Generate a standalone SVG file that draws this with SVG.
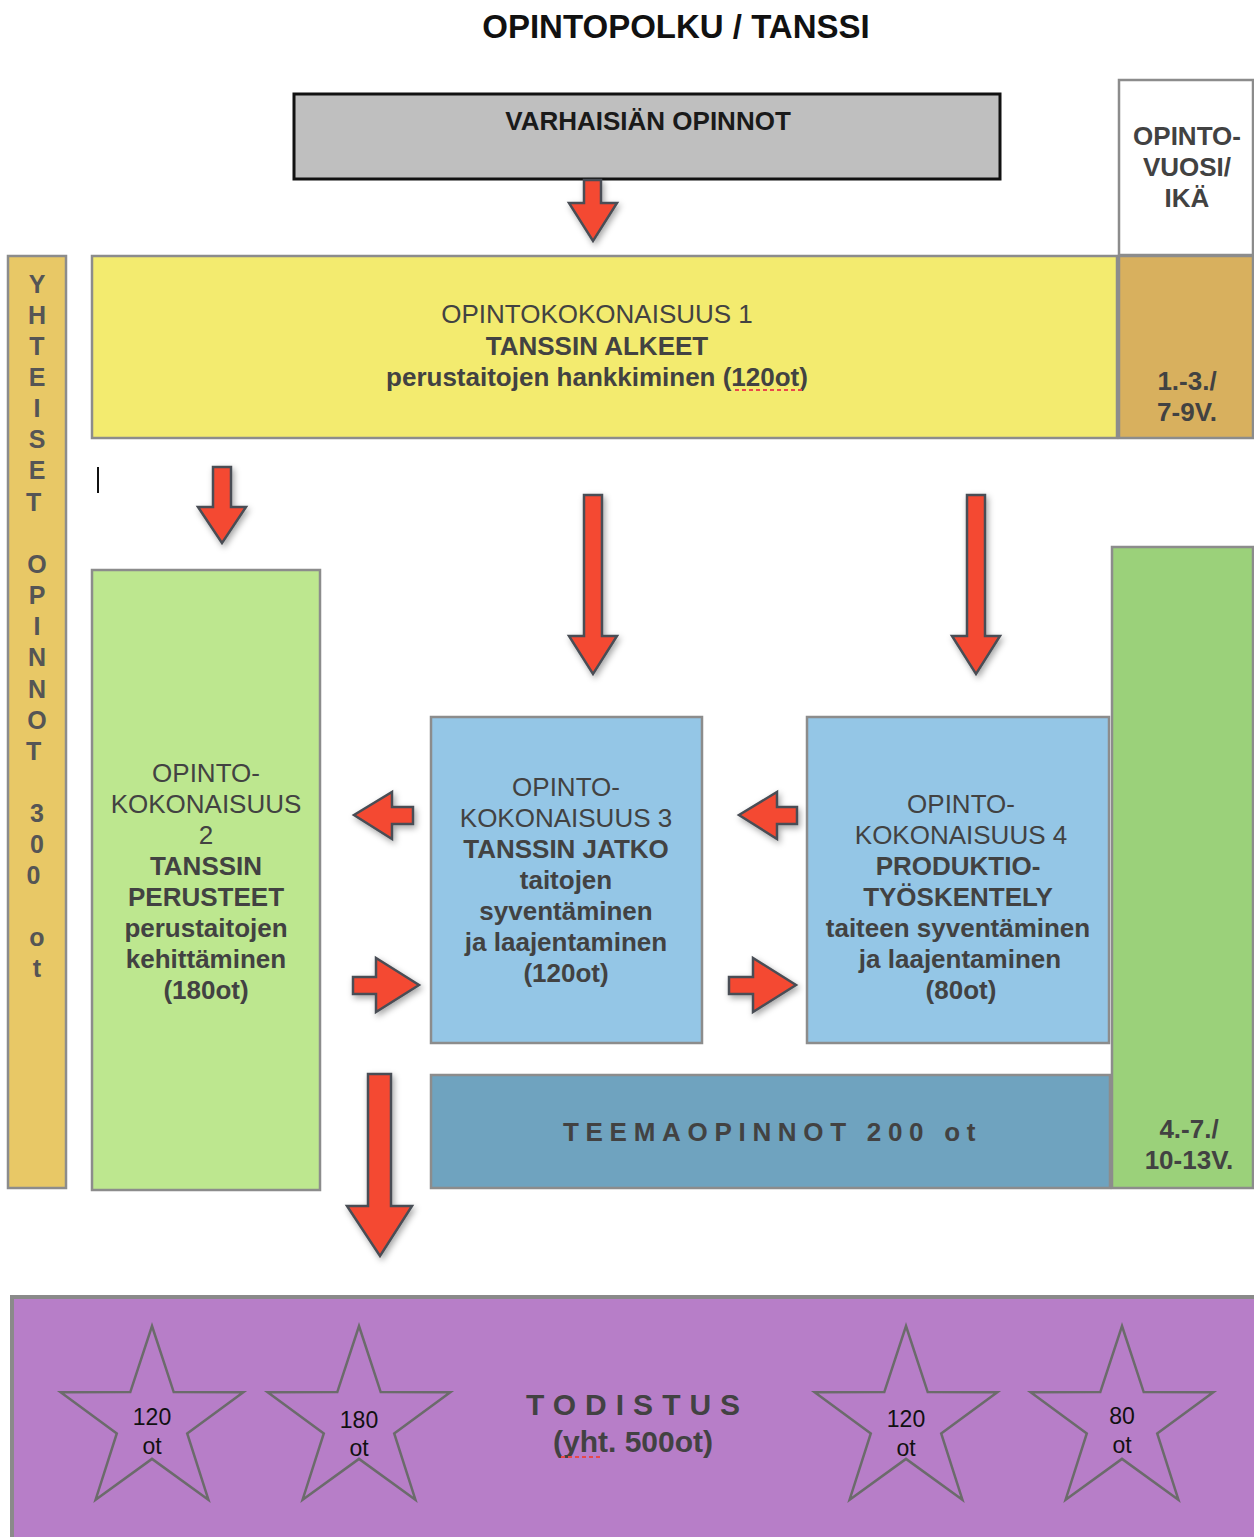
<svg xmlns="http://www.w3.org/2000/svg" width="1254" height="1537" viewBox="0 0 1254 1537">
<defs>
<style>
.t{font-family:"Liberation Sans",Arial,sans-serif;fill:#424242;text-anchor:middle}
.b{font-weight:bold}
.box{stroke:#8c8c8c;stroke-width:2.5}
.arr{fill:#f44a33;stroke:#4a4e55;stroke-width:2.5;stroke-linejoin:miter;filter:url(#sh)}
.star{fill:none;stroke:#6b6b6b;stroke-width:2.5;stroke-linejoin:miter}
.st{font-family:"Liberation Sans",Arial,sans-serif;fill:#111;text-anchor:middle;font-size:23px}
.sq{stroke:#e8474a;stroke-width:2;stroke-dasharray:4 3}
</style>
<filter id="sh" x="-30%" y="-30%" width="160%" height="160%">
<feDropShadow dx="2" dy="3" stdDeviation="3" flood-color="#000" flood-opacity="0.35"/>
</filter>
<polygon id="star" points="0,-96 21.7,-29.9 91.3,-29.7 35.2,11.4 56.4,77.7 0,36.9 -56.4,77.7 -35.2,11.4 -91.3,-29.7 -21.7,-29.9"/>
</defs>
<rect width="1254" height="1537" fill="#fff"/>

<text class="t b" x="676" y="38" font-size="33" style="fill:#111">OPINTOPOLKU / TANSSI</text>

<g id="varhaisian">
<rect x="294" y="94" width="706" height="85" fill="#bfbfbf" stroke="#111" stroke-width="3"/>
<text class="t b" x="648" y="130" font-size="26" style="fill:#1a1a1a">VARHAISIÄN OPINNOT</text>
</g>

<g id="opintovuosi">
<rect x="1119" y="80" width="134" height="175" fill="#fff" class="box"/>
<text class="t b" font-size="26"><tspan x="1187" y="145">OPINTO-</tspan><tspan x="1187" y="176">VUOSI/</tspan><tspan x="1187" y="207">IKÄ</tspan></text>
</g>

<g id="ok1">
<rect x="92" y="256" width="1025" height="182" fill="#f3eb6f" class="box"/>
<text class="t" x="597" y="323" font-size="26">OPINTOKOKONAISUUS 1</text>
<text class="t b" x="597" y="355" font-size="26">TANSSIN ALKEET</text>
<text class="t b" x="597" y="386" font-size="26">perustaitojen hankkiminen (120ot)</text>
<line class="sq" x1="735" y1="390" x2="803" y2="390"/>
</g>

<g id="ika1">
<rect x="1119" y="256" width="134" height="182" fill="#d8b05e" class="box"/>
<text class="t b" font-size="26"><tspan x="1187" y="390">1.-3./</tspan><tspan x="1187" y="421">7-9V.</tspan></text>
</g>

<g id="yhteiset">
<rect x="8" y="256" width="58" height="932" fill="#e8c866" class="box"/>
<text class="t b" font-size="25" style="fill:#555">
<tspan x="37" y="293">Y</tspan><tspan x="37" y="324">H</tspan><tspan x="37" y="355">T</tspan><tspan x="37" y="386">E</tspan><tspan x="37" y="417">I</tspan><tspan x="37" y="448">S</tspan><tspan x="37" y="479">E</tspan><tspan x="37" y="511">T</tspan>
<tspan x="37" y="573">O</tspan><tspan x="37" y="604">P</tspan><tspan x="37" y="635">I</tspan><tspan x="37" y="666">N</tspan><tspan x="37" y="698">N</tspan><tspan x="37" y="729">O</tspan><tspan x="37" y="760">T</tspan>
<tspan x="37" y="822">3</tspan><tspan x="37" y="853">0</tspan><tspan x="37" y="884">0</tspan>
<tspan x="37" y="946">o</tspan><tspan x="37" y="977">t</tspan>
</text>
</g>

<line x1="98" y1="467" x2="98" y2="493" stroke="#111" stroke-width="2"/>

<g id="ok2">
<rect x="92" y="570" width="228" height="620" fill="#bde78f" class="box"/>
<text class="t" font-size="26"><tspan x="206" y="782">OPINTO-</tspan><tspan x="206" y="813">KOKONAISUUS</tspan><tspan x="206" y="844">2</tspan></text>
<text class="t b" font-size="26"><tspan x="206" y="875">TANSSIN</tspan><tspan x="206" y="906">PERUSTEET</tspan><tspan x="206" y="937">perustaitojen</tspan><tspan x="206" y="968">kehittäminen</tspan><tspan x="206" y="999">(180ot)</tspan></text>
</g>

<g id="ok3">
<rect x="431" y="717" width="271" height="326" fill="#94c6e6" class="box"/>
<text class="t" font-size="26"><tspan x="566" y="796">OPINTO-</tspan><tspan x="566" y="827">KOKONAISUUS 3</tspan></text>
<text class="t b" font-size="26"><tspan x="566" y="858">TANSSIN JATKO</tspan><tspan x="566" y="889">taitojen</tspan><tspan x="566" y="920">syventäminen</tspan><tspan x="566" y="951">ja laajentaminen</tspan><tspan x="566" y="982">(120ot)</tspan></text>
</g>

<g id="ok4">
<rect x="807" y="717" width="302" height="326" fill="#94c6e6" class="box"/>
<text class="t" font-size="26"><tspan x="961" y="813">OPINTO-</tspan><tspan x="961" y="844">KOKONAISUUS 4</tspan></text>
<text class="t b" font-size="26"><tspan x="958" y="875">PRODUKTIO-</tspan><tspan x="958" y="906">TYÖSKENTELY</tspan><tspan x="958" y="937">taiteen syventäminen</tspan><tspan x="960" y="968">ja laajentaminen</tspan><tspan x="961" y="999">(80ot)</tspan></text>
</g>

<g id="ika2">
<rect x="1112" y="547" width="141" height="641" fill="#9bd17a" class="box"/>
<text class="t b" font-size="26"><tspan x="1189" y="1138">4.-7./</tspan><tspan x="1189" y="1169">10-13V.</tspan></text>
</g>

<g id="teema">
<rect x="431" y="1075" width="679" height="113" fill="#6fa3bf" class="box"/>
<text class="t b" x="563" y="1141" font-size="26" letter-spacing="6.7" style="text-anchor:start">TEEMAOPINNOT 200 ot</text>
</g>

<g id="todistus">
<rect x="12" y="1297" width="1244" height="242" fill="#b77ec8" stroke="#8a8a8a" stroke-width="4"/>
<use href="#star" class="star" transform="translate(152,1422)"/>
<use href="#star" class="star" transform="translate(359,1422)"/>
<use href="#star" class="star" transform="translate(906,1422)"/>
<use href="#star" class="star" transform="translate(1122,1422)"/>
<text class="st"><tspan x="152" y="1425">120</tspan><tspan x="152" y="1454">ot</tspan></text>
<text class="st"><tspan x="359" y="1428">180</tspan><tspan x="359" y="1456">ot</tspan></text>
<text class="st"><tspan x="906" y="1427">120</tspan><tspan x="906" y="1456">ot</tspan></text>
<text class="st"><tspan x="1122" y="1424">80</tspan><tspan x="1122" y="1453">ot</tspan></text>
<text class="t b" x="526" y="1415" font-size="30" letter-spacing="9" style="text-anchor:start">TODISTUS</text>
<text class="t b" x="633" y="1452" font-size="30">(yht. 500ot)</text>
<line class="sq" x1="561" y1="1457" x2="601" y2="1457"/>
</g>

<g id="connectors">
<polygon class="arr" points="584,180 601,180 601,203 617,203 593,241 569,203 584,203"/>
<polygon class="arr" points="213,467 231,467 231,507 246,507 222,543 198,507 213,507"/>
<polygon class="arr" points="584,495 602,495 602,636 617,636 593,674 569,636 584,636"/>
<polygon class="arr" points="967,495 985,495 985,636 1000,636 976,674 952,636 967,636"/>
<polygon class="arr" points="413,807 413,824 392,824 392,839 354,815 392,792 392,807"/>
<polygon class="arr" points="797,807 797,824 777,824 777,839 739,815 777,792 777,807"/>
<polygon class="arr" points="353,977 376,977 376,958 419,985 376,1012 376,994 353,994"/>
<polygon class="arr" points="729,977 753,977 753,958 796,985 753,1012 753,994 729,994"/>
<polygon class="arr" points="368,1074 391,1074 391,1206 412,1206 380,1256 347,1206 368,1206"/>
</g>
</svg>
